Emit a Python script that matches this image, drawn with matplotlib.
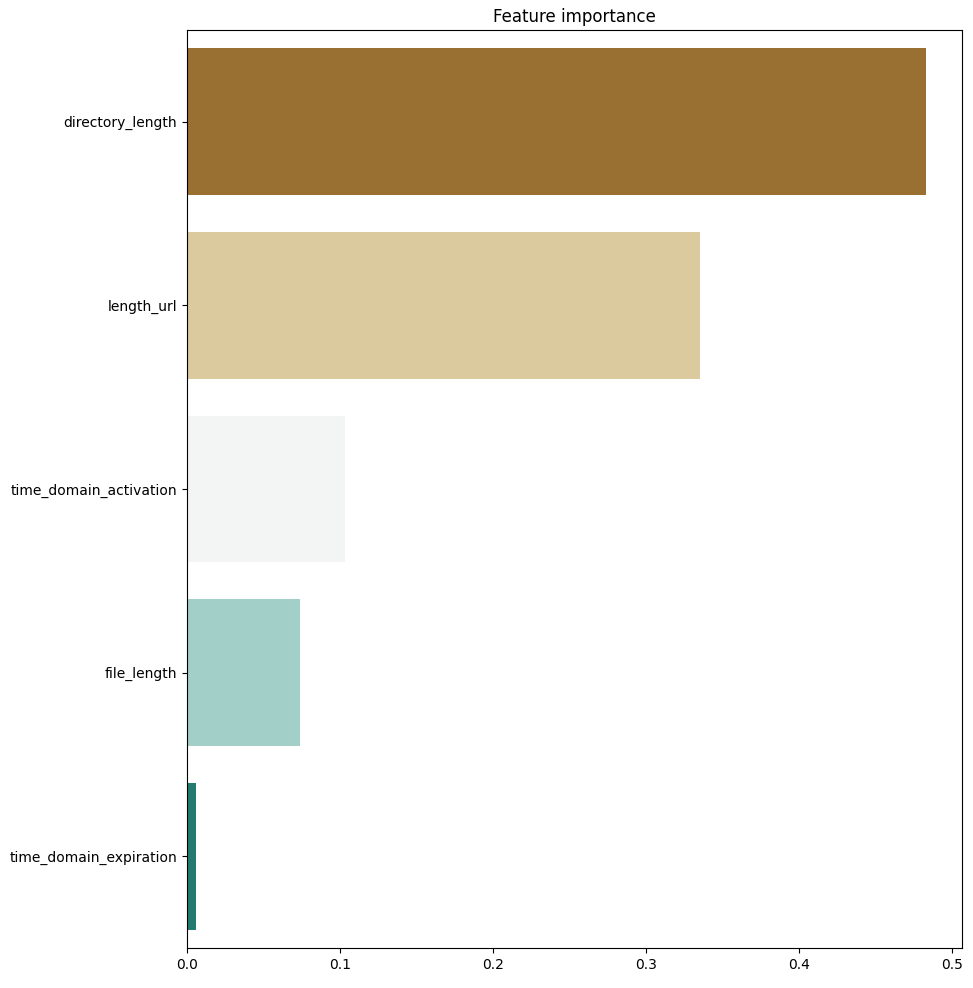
import matplotlib
matplotlib.use("Agg")
import matplotlib.pyplot as plt

features = ["directory_length", "length_url", "time_domain_activation", "file_length", "time_domain_expiration"]
importance = [0.483, 0.335, 0.103, 0.074, 0.006]
colors = ["#9a6f32", "#dbca9d", "#f3f5f4", "#a3cfc9", "#237a6f"]

fig = plt.figure(figsize=(9.73, 9.88), dpi=100)
ax = fig.add_axes([187/973, 1-948/988, (962-187)/973, (948-30)/988])
y = list(range(len(features)))
ax.barh(y, importance, height=0.8, color=colors)
ax.set_yticks(y)
ax.set_yticklabels(features)
ax.set_ylim(len(features)-0.5, -0.5)
ax.set_xlim(0, 0.5065)
ax.set_title("Feature importance")
fig.savefig("out.png", dpi=100)
